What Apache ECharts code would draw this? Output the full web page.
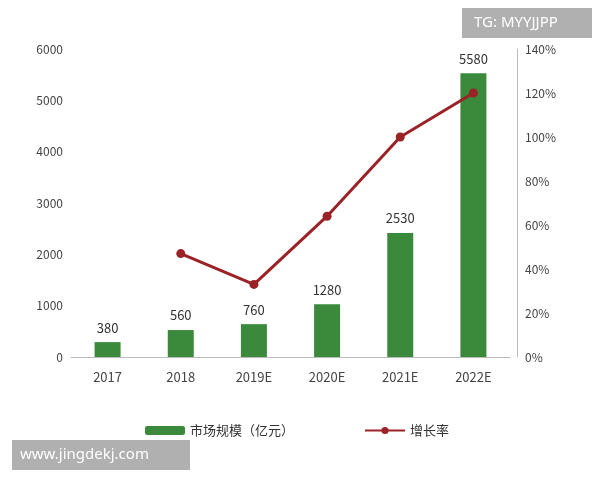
<!DOCTYPE html>
<html>
<head>
<meta charset="utf-8">
<script src="https://cdn.jsdelivr.net/npm/echarts@6/dist/echarts.min.js"></script>
<style>html,body{margin:0;padding:0;background:#fff}</style>
</head>
<body>
<div id="main" style="width:600px;height:480px"></div>
<script>
var years = ['2017', '2018', '2019E', '2020E', '2021E', '2022E'];
// bar heights as drawn in the picture
var marketSize = [290, 525, 640, 1030, 2415, 5530];
// numbers printed above the bars
var sizeLabels = ['380', '560', '760', '1280', '2530', '5580'];
var growth = [null, 47, 33, 64, 100, 120];

var myChart = echarts.init(document.getElementById('main'));
var option = {
    textStyle: { fontFamily: 'Noto Sans CJK SC' },
    grid: { left: 71, right: 90, top: 49, bottom: 123 },
    legend: {
        bottom: 38, left: 140, itemGap: 70, itemWidth: 40, itemHeight: 9,
        textStyle: { color: '#333', fontSize: 13 },
        data: ['市场规模（亿元）', '增长率']
    },
    xAxis: {
        type: 'category', data: years,
        axisLine: { lineStyle: { color: '#bbb' } },
        axisTick: { show: false },
        axisLabel: { color: '#444', fontSize: 13, margin: 14 }
    },
    yAxis: [
        { type: 'value', min: 0, max: 6000, interval: 1000,
          splitLine: { show: false }, axisLine: { show: false },
          axisLabel: { color: '#444', fontSize: 12, formatter: function (v) { return String(v); } } },
        { type: 'value', min: 0, max: 140, interval: 20, position: 'right', offset: 7,
          splitLine: { show: false },
          axisLine: { show: true, lineStyle: { color: '#bbb' } },
          axisLabel: { color: '#444', fontSize: 12, formatter: '{value}%' } }
    ],
    series: [
        { name: '市场规模（亿元）', type: 'bar', data: marketSize, barWidth: 26,
          itemStyle: { color: '#3b8a3c' },
          label: { show: true, position: 'top', distance: 8, color: '#333', fontSize: 13,
                   formatter: function (p) { return sizeLabels[p.dataIndex]; } } },
        { name: '增长率', type: 'line', yAxisIndex: 1, data: growth,
          symbol: 'circle', symbolSize: 9,
          lineStyle: { color: '#9b2226', width: 3 },
          itemStyle: { color: '#9b2226' } }
    ],
    graphic: [
        { type: 'group', right: 8, top: 8, children: [
            { type: 'rect', shape: { width: 130, height: 30 }, style: { fill: 'rgba(150,150,150,0.75)' } },
            { type: 'text', x: 12, y: 7, style: { text: 'TG: MYYJJPP', fill: '#fff', font: '15px "Noto Sans"' } }
        ] },
        { type: 'group', left: 12, top: 440, children: [
            { type: 'rect', shape: { width: 178, height: 30 }, style: { fill: 'rgba(150,150,150,0.75)' } },
            { type: 'text', x: 8, y: 7, style: { text: 'www.jingdekj.com', fill: '#fff', font: '15px "Noto Sans"' } }
        ] }
    ]
};
myChart.setOption(option);
</script>
</body>
</html>
